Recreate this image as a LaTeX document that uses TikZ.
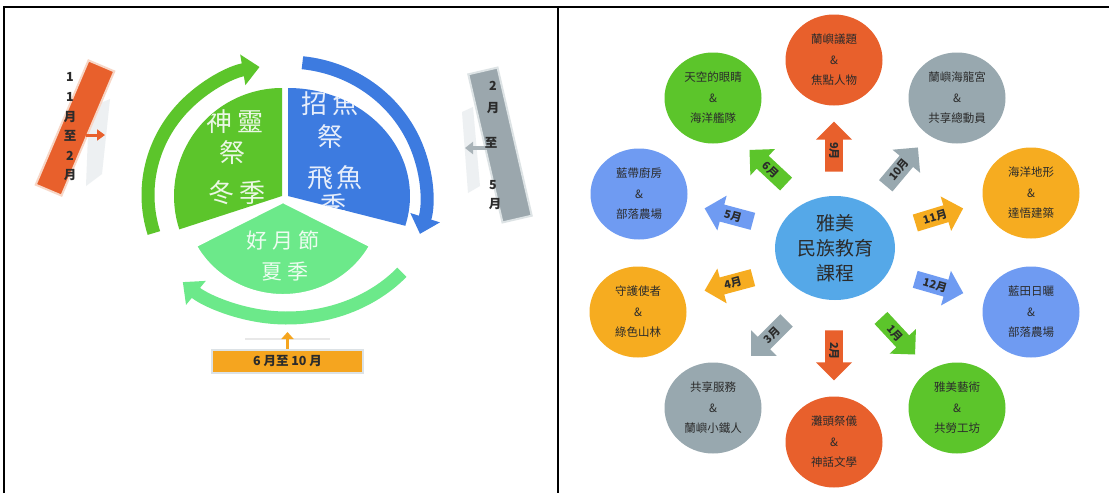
\documentclass[tikz,border=0pt]{standalone}
\usepackage{fontspec}
\newfontfamily\cjk{Noto Sans CJK TC}
\usetikzlibrary{shapes.geometric,shapes.arrows,arrows.meta}
\definecolor{cgreen}{HTML}{5CC52B}
\definecolor{cblue}{HTML}{3D7BE0}
\definecolor{cmint}{HTML}{6CE98A}
\definecolor{cred}{HTML}{E8602C}
\definecolor{cgrey}{HTML}{98A8AF}
\definecolor{cperi}{HTML}{6F9BF2}
\definecolor{corange}{HTML}{F6AC20}
\definecolor{ccenter}{HTML}{55A8E8}
\definecolor{ctext}{HTML}{2B2B2B}
\definecolor{cpale}{HTML}{EDF0F2}
\definecolor{credrim}{HTML}{F7D6C6}
\definecolor{cgbox}{HTML}{9BA7AD}
\definecolor{cgrim}{HTML}{DDE3E5}
\definecolor{cgarrow}{HTML}{A9B3B8}
\definecolor{cbbox}{HTML}{F5A51F}
\definecolor{cbrim}{HTML}{DCE2E6}
\begin{document}
\begin{tikzpicture}[x=1pt,y=1pt,
  topic/.style={ellipse, minimum width=97, minimum height=91, inner sep=0pt, align=center,
    font=\cjk\fontsize{11.5}{20.5}\selectfont, text=ctext},
  marrow/.style={single arrow, minimum height=50, minimum width=36, single arrow head extend=7pt,
    single arrow head indent=0pt, inner sep=1.5pt, font=\cjk\bfseries\fontsize{11}{12}\selectfont, text=ctext},
  flip/.style={shape border rotate=180},
  bigtxt/.style={font=\cjk\fontsize{26}{28}\selectfont, text=white, text opacity=0.88, inner sep=0pt},
  midtxt/.style={font=\cjk\fontsize{21}{23}\selectfont, text=white, text opacity=0.88, inner sep=0pt},
  boxtxt/.style={font=\cjk\bfseries\fontsize{12.5}{13}\selectfont, text=ctext, inner sep=0pt},
  ring/.style={line width=13pt},
]
\useasboundingbox (0,0) rectangle (1109,-493);
\fill[white] (0,0) rectangle (1109,-493);

% table frame
\coordinate (f1) at (4,-493);
\coordinate (f2) at (4,-6.5);
\coordinate (f3) at (1109,-6.5);
\coordinate (f4) at (558,-6.5);
\coordinate (f5) at (558,-493);
\draw[line width=2pt] (f1) -- (f2) -- (f3);
\draw[line width=2pt] (f4) -- (f5);

% ================= LEFT PANEL =================
\coordinate (gc) at (282,-196);
\coordinate (bc) at (288,-196);
\coordinate (mc) at (283,-201);
\coordinate (ga) at (283,-195);
\coordinate (ba) at (288,-195);
\coordinate (ma) at (287,-190);

% green sector
\fill[cgreen] (gc) -- ([shift={(90:108 and 108)}]gc) arc[start angle=90,end angle=198,x radius=108,y radius=108] -- cycle;
\begin{scope}
\clip (gc) -- ([shift={(90:108 and 108)}]gc) arc[start angle=90,end angle=198,x radius=108,y radius=108] -- cycle;
\node[bigtxt] (g1) at (235,-122) {神\kern5pt靈};
\node[bigtxt] (g2) at (232,-153) {祭};
\node[bigtxt] (g3) at (237,-193) {冬\kern5pt季};
\end{scope}

% blue sector
\fill[cblue] (bc) -- ([shift={(-16:122 and 108)}]bc) arc[start angle=-16,end angle=90,x radius=122,y radius=108] -- cycle;
\begin{scope}
\clip (bc) -- ([shift={(-16:122 and 108)}]bc) arc[start angle=-16,end angle=90,x radius=122,y radius=108] -- cycle;
\node[bigtxt] (b1) at (330,-104) {招\kern5pt魚};
\node[bigtxt] (b2) at (330,-137) {祭};
\node[bigtxt] (b3) at (335,-178) {飛\kern4pt魚};
\node[bigtxt] (b4) at (333,-206) {季};
\end{scope}

% mint sector (front)
\filldraw[fill=cmint, draw=white, line width=4pt] (mc) -- ([shift={(208:100 and 95)}]mc) arc[start angle=208,end angle=332,x radius=100,y radius=95] -- cycle;
\node[midtxt] (m1) at (283,-240) {好\kern5pt月\kern5pt節};
\node[midtxt] (m2) at (285,-272) {夏\kern5pt季};

% cycle arrows
\draw[ring, cgreen, -{Triangle[length=17pt,width=30pt]}]
  ([shift={(197:135 and 130)}]ga) arc[start angle=197,end angle=100,x radius=135,y radius=130];
\draw[ring, cblue, -{Triangle[length=17pt,width=30pt]}]
  ([shift={(84:138 and 133)}]ba) arc[start angle=84,end angle=-17,x radius=138,y radius=133];
\draw[ring, cmint, -{Triangle[length=17pt,width=30pt]}]
  ([shift={(-40:150 and 128)}]ma) arc[start angle=-40,end angle=-134,x radius=150,y radius=128];

% orange tilted box (11-2 month)
\fill[cpale] (89,-108) -- (110,-99) -- (102,-174) -- (86,-186) -- cycle;
\node[rectangle, fill=cred, draw=credrim, line width=2pt, minimum width=28, minimum height=135,
  rotate=-23, inner sep=0pt] (ob) at (75,-128) {};
\coordinate (oa1) at (86,-135);
\coordinate (oa2) at (105,-135);
\draw[cred, line width=3pt, -{Triangle[length=8pt,width=11pt]}] (oa1) -- (oa2);
\node[boxtxt, align=center, font=\cjk\bfseries\fontsize{12.5}{19.6}\selectfont] (obt) at (70,-127) {1\\1\\月\\至\\2\\月};

% grey tilted box (2-5 month)
\fill[cpale] (462,-112) -- (473,-107) -- (480,-186) -- (468,-193) -- cycle;
\node[rectangle, fill=cgbox, draw=cgrim, line width=2pt,
  minimum width=30, minimum height=152, rotate=13, inner sep=0pt] (gb) at (500,-145) {};
\coordinate (ga1) at (487,-148);
\coordinate (ga2) at (465,-148);
\draw[cgarrow, line width=4pt, -{Triangle[length=8pt,width=12pt]}] (ga1) -- (ga2);
\node[boxtxt] (gt1) at (493,-86) {2};
\node[boxtxt] (gt2) at (493,-108) {月};
\node[boxtxt] (gt3) at (491,-143) {至};
\node[boxtxt] (gt4) at (493,-185) {5};
\node[boxtxt] (gt5) at (495,-204) {月};

% bottom box (6-10 month)
\coordinate (sh1) at (245,-339);
\coordinate (sh2) at (330,-339);
\draw[gray!18, line width=2pt] (sh1) -- (sh2);
\node[rectangle, fill=cbbox, draw=cbrim, line width=2.5pt,
  minimum width=151, minimum height=23, inner sep=0pt, boxtxt] (bb) at (287.5,-361.5) {6 月至 10 月};
\coordinate (bbtip) at (287.5,-332);
\draw[cbbox, line width=3pt, -{Triangle[length=7pt,width=12pt]}] (bb.north) -- (bbtip);

% ================= RIGHT PANEL =================
\node[ellipse, fill=ccenter, minimum width=120, minimum height=104, inner sep=0pt, align=center,
  font=\cjk\fontsize{19}{25}\selectfont, text=ctext] (core) at (835,-248) {雅美\\民族教育\\課程};

\node[topic, fill=cred]    (t9)  at (834,-60)   {蘭嶼議題\\\&\\焦點人物};
\node[topic, fill=cgrey]   (t10) at (957,-98)   {蘭嶼海龍宮\\\&\\共享總動員};
\node[topic, fill=corange] (t11) at (1031,-193) {海洋地形\\\&\\達悟建築};
\node[topic, fill=cperi]   (t12) at (1031,-312) {藍田日曬\\\&\\部落農場};
\node[topic, fill=cgreen]  (t1)  at (957,-408)  {雅美藝術\\\&\\共勞工坊};
\node[topic, fill=cred]    (t2)  at (834,-442)  {灘頭祭儀\\\&\\神話文學};
\node[topic, fill=cgrey]   (t3)  at (713,-408)  {共享服務\\\&\\蘭嶼小鐵人};
\node[topic, fill=corange] (t4)  at (638,-312)  {守護使者\\\&\\綠色山林};
\node[topic, fill=cperi]   (t5)  at (639,-194)  {藍帶廚房\\\&\\部落農場};
\node[topic, fill=cgreen]  (t6)  at (713,-98)   {天空的眼睛\\\&\\海洋艦隊};

\node[marrow, fill=cred,    rotate=-90, flip] (a9)  at (834,-151) {9月};
\node[marrow, fill=cgrey,   rotate=50]        (a10) at (899,-170) {10月};
\node[marrow, fill=corange, rotate=17]        (a11) at (935,-217) {11月};
\node[marrow, fill=cperi,   rotate=-16]       (a12) at (935,-285) {12月};
\node[marrow, fill=cgreen,  rotate=-47]       (a1)  at (895,-333) {1月};
\node[marrow, fill=cred,    rotate=-90]       (a2)  at (834,-351) {2月};
\node[marrow, fill=cgrey,   rotate=45, flip]  (a3)  at (772,-335) {3月};
\node[marrow, fill=corange, rotate=15, flip]  (a4)  at (733,-283) {4月};
\node[marrow, fill=cperi,   rotate=-15, flip] (a5)  at (733,-216) {5月};
\node[marrow, fill=cgreen,  rotate=-43, flip] (a6)  at (771,-170) {6月};
\end{tikzpicture}
\end{document}
